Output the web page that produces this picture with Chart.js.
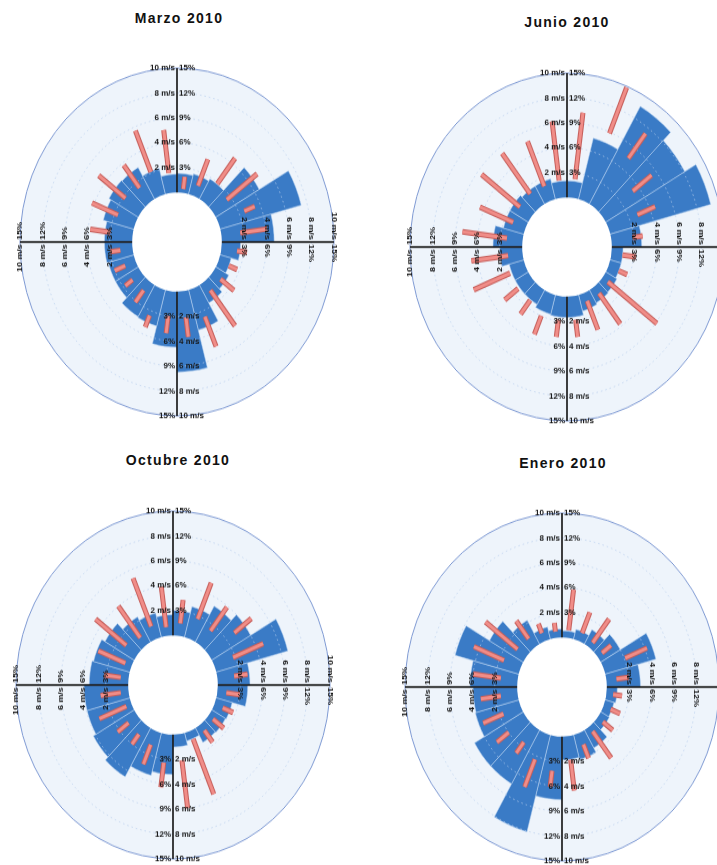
<!DOCTYPE html>
<html>
<head>
<meta charset="utf-8">
<script src="https://cdn.jsdelivr.net/npm/chart.js@4.4.1/dist/chart.umd.min.js"></script>
<style>
  html, body { margin: 0; padding: 0; background: #fff; }
  body { width: 717px; height: 865px; position: relative; overflow: hidden; font-family: "Liberation Sans", Arial, sans-serif; }
  .title { position: absolute; width: 200px; margin-left: -100px; text-align: center; font-weight: bold; font-size: 14px; line-height: 16px; letter-spacing: 1.3px; color: #111; }
  .rose { position: absolute; width: 360px; height: 360px; transform: scaleY(1.108); transform-origin: 180px 180px; }
</style>
</head>
<body>
<div class="title" style="left:179px; top:10px">Marzo 2010</div>
<div class="title" style="left:567px; top:14px">Junio 2010</div>
<div class="title" style="left:178px; top:452px">Octubre 2010</div>
<div class="title" style="left:563px; top:455px">Enero 2010</div>

<canvas id="marzo" class="rose" width="360" height="360" style="left:-3px; top:62px"></canvas>
<canvas id="junio" class="rose" width="360" height="360" style="left:387px; top:67px"></canvas>
<canvas id="octubre" class="rose" width="360" height="360" style="left:-7px; top:505px"></canvas>
<canvas id="enero" class="rose" width="360" height="360" style="left:382px; top:507px"></canvas>

<script>
// 24 sectores de 15 grados, empezando en el norte y girando en sentido horario
const sectors = ['0°', '15°', '30°', '45°', '60°', '75°', '90°', '105°', '120°', '135°', '150°', '165°',
	'180°', '195°', '210°', '225°', '240°', '255°', '270°', '285°', '300°', '315°', '330°', '345°'];

// etiquetas de los ejes (misma posicion radial para m/s y %)
const speedTicks = ['2 m/s', '4 m/s', '6 m/s', '8 m/s', '10 m/s'];
const freqTicks = ['3%', '6%', '9%', '12%', '15%'];
const tickValues = [3, 6, 9, 12, 15];
const MS_TO_PCT = 1.5; // 10 m/s ocupa lo mismo que 15%

// frecuencia (%) por sector
const marzoFreq = [2.3, 2.5, 2.8, 6.7, 11.2, 7.0, 2.5, 1.5, 2.0, 2.5, 5.0, 9.7, 6.7, 4.5, 4.4, 3.5, 3.5, 3.7, 3.7, 4.2, 4.5, 4.4, 3.2, 2.2];
const junioFreq = [2.0, 7.6, 13.6, 12.2, 13.9, 4.0, 1.5, 1.5, 1.7, 1.8, 2.0, 2.5, 2.5, 2.4, 2.0, 2.0, 2.0, 3.0, 3.9, 2.8, 2.8, 2.5, 2.5, 2.0];
const octubreFreq = [3.0, 3.8, 5.0, 6.0, 9.9, 4.3, 4.0, 2.2, 2.1, 2.0, 1.0, 1.5, 4.8, 5.3, 6.8, 6.3, 5.9, 5.9, 5.2, 5.0, 4.5, 3.5, 3.0, 2.5];
const eneroFreq = [0.8, 1.2, 2.0, 3.0, 7.0, 4.5, 1.4, 1.2, 1.3, 2.5, 3.1, 2.8, 7.6, 12.1, 7.5, 7.5, 6.0, 5.9, 6.3, 8.8, 5.2, 3.3, 1.5, 1.0];

// rango de velocidad (m/s) por sector: inicio y fin de cada barra roja
const marzoSpeedLow = [0.3, 0.9, 1.9, 1.6, 2.5, 1.7, 1.4, 1.0, 0.9, 0.9, 2.5, 2.1, 2.0, 2.4, 0.9, 1.0, 1.0, 1.1, 2.0, 1.7, 1.8, 1.5, 2.1, 1.6];
const marzoSpeedHigh = [1.3, 3.2, 4.5, 5.0, 3.5, 4.1, 2.3, 1.8, 2.4, 4.5, 5.1, 3.7, 3.4, 3.4, 2.1, 1.8, 2.0, 2.0, 3.8, 4.2, 4.8, 3.8, 5.7, 5.1];
const junioSpeedLow = [1.5, 5.9, 5.0, 3.4, 2.8, 1.9, 1.0, 1.0, 0.6, 0.7, 0.7, 1.9, 1.9, 2.0, 1.4, 1.5, 1.5, 1.3, 1.4, 1.2, 1.3, 1.4, 1.3, 1.4];
const junioSpeedHigh = [6.9, 9.9, 7.5, 5.5, 4.5, 2.8, 2.2, 1.8, 6.1, 3.8, 3.2, 3.3, 3.3, 3.6, 2.8, 3.0, 5.0, 4.6, 5.4, 4.4, 5.6, 5.5, 5.2, 6.2];
const octubreSpeedLow = [1.0, 1.75, 1.5, 2.9, 1.8, 1.5, 0.8, 0.8, 0.5, 0.6, 0.7, 2.1, 2.3, 1.2, 1.0, 1.0, 0.5, 0.7, 0.7, 0.6, 1.25, 0.8, 1.1, 0.7];
const octubreSpeedHigh = [2.9, 4.9, 3.9, 4.8, 4.7, 2.7, 2.0, 1.8, 1.7, 1.8, 5.5, 6.0, 4.3, 2.9, 2.0, 2.2, 3.1, 2.5, 2.2, 3.2, 4.7, 4.0, 5.3, 4.0];
const eneroSpeedLow = [0.6, 0.7, 0.5, 0.5, 2.1, 0.9, 0.6, 0.7, 0.6, 0.5, 1.0, 1.9, 2.8, 2.3, 1.6, 2.0, 1.65, 1.5, 1.5, 1.6, 1.0, 0.9, 0.7, 0.5];
const eneroSpeedHigh = [3.9, 2.5, 2.9, 1.5, 4.2, 2.0, 1.4, 1.6, 1.7, 3.2, 2.2, 4.4, 4.1, 4.7, 2.7, 3.3, 3.6, 3.3, 4.0, 4.5, 4.6, 2.7, 1.5, 1.2];

// cada sector aparece dos veces: borde y centro (las barras rojas van al centro)
const halfSteps = [];
sectors.forEach(function(s) {
	halfSteps.push(s, s + ' +7.5°');
});

function circle(ctx, x, y, r) {
	ctx.beginPath();
	ctx.arc(x, y, r, 0, Math.PI * 2);
}

const roseDecor = {
	id: 'roseDecor',
	beforeDatasetsDraw(chart) {
		const s = chart.scales.r;
		const ctx = chart.ctx;
		ctx.save();
		circle(ctx, s.xCenter, s.yCenter, s.getDistanceFromCenterForValue(s.max));
		ctx.fillStyle = '#eef4fb';
		ctx.fill();
		ctx.restore();
	},
	afterDatasetDraw(chart, args) {
		if(args.meta.type !== 'polarArea') return;
		const s = chart.scales.r;
		const ctx = chart.ctx;
		const cx = s.xCenter, cy = s.yCenter;
		ctx.save();
		// rejilla punteada por encima de las cuñas
		ctx.setLineDash([1.5, 3]);
		ctx.lineWidth = 0.8;
		ctx.strokeStyle = 'rgba(185,208,238,0.9)';
		tickValues.slice(0, 4).forEach(function(v) {
			circle(ctx, cx, cy, s.getDistanceFromCenterForValue(v));
			ctx.stroke();
		});
		ctx.setLineDash([]);
		// hueco central
		circle(ctx, cx, cy, s.getDistanceFromCenterForValue(0));
		ctx.fillStyle = '#ffffff';
		ctx.fill();
		ctx.restore();
	},
	afterDraw(chart) {
		const s = chart.scales.r;
		const ctx = chart.ctx;
		const cx = s.xCenter, cy = s.yCenter;
		const r0 = s.getDistanceFromCenterForValue(0);
		const R = s.getDistanceFromCenterForValue(s.max);
		ctx.save();
		// borde exterior
		circle(ctx, cx, cy, R);
		ctx.strokeStyle = '#7f9ad3';
		ctx.lineWidth = 1;
		ctx.stroke();
		// ejes
		ctx.strokeStyle = '#111';
		ctx.lineWidth = 1.6;
		ctx.beginPath();
		ctx.moveTo(cx, cy - r0); ctx.lineTo(cx, cy - R);
		ctx.moveTo(cx, cy + r0); ctx.lineTo(cx, cy + R);
		ctx.moveTo(cx + r0, cy); ctx.lineTo(cx + R, cy);
		ctx.moveTo(cx - r0, cy); ctx.lineTo(cx - R, cy);
		ctx.stroke();
		// etiquetas
		ctx.font = 'bold 8px "Liberation Sans", Arial, sans-serif';
		ctx.fillStyle = '#151515';
		ctx.textBaseline = 'middle';
		tickValues.forEach(function(v, i) {
			const d = s.getDistanceFromCenterForValue(v);
			const sp = speedTicks[i], fr = freqTicks[i];
			ctx.textAlign = 'right'; ctx.fillText(sp, cx - 2, cy - d);
			ctx.textAlign = 'left'; ctx.fillText(fr, cx + 2, cy - d);
			ctx.textAlign = 'right'; ctx.fillText(fr, cx - 2, cy + d);
			ctx.textAlign = 'left'; ctx.fillText(sp, cx + 2, cy + d);
			ctx.save();
			ctx.translate(cx + d, cy);
			ctx.rotate(Math.PI / 2);
			ctx.textAlign = 'right'; ctx.fillText(sp, -2, 0);
			ctx.textAlign = 'left'; ctx.fillText(fr, 2, 0);
			ctx.restore();
			ctx.save();
			ctx.translate(cx - d, cy);
			ctx.rotate(-Math.PI / 2);
			ctx.textAlign = 'right'; ctx.fillText(sp, -2, 0);
			ctx.textAlign = 'left'; ctx.fillText(fr, 2, 0);
			ctx.restore();
		});
		ctx.restore();
	}
};

function makeRose(id, freq, low, high) {
	const mid = [];
	sectors.forEach(function(s, k) {
		mid.push(null, (low[k] + high[k]) / 2 * MS_TO_PCT);
	});
	const halfLen = function(c) {
		if(c.dataIndex === undefined || c.dataIndex % 2 === 0) return 0;
		const k = (c.dataIndex - 1) / 2;
		const r = c.chart.scales.r;
		return (r.getDistanceFromCenterForValue(high[k] * MS_TO_PCT) - r.getDistanceFromCenterForValue(low[k] * MS_TO_PCT)) / 2;
	};
	const rot = function(c) {
		return (c.dataIndex || 0) * 7.5 - 90;
	};
	const redBars = function(color, width, order) {
		return {
			type: 'radar',
			data: mid,
			order: order,
			showLine: false,
			fill: false,
			pointStyle: 'line',
			pointRadius: halfLen,
			pointHoverRadius: halfLen,
			pointRotation: rot,
			pointBorderColor: color,
			pointBackgroundColor: color,
			pointBorderWidth: width,
			pointHoverBorderWidth: width,
			pointHitRadius: 0
		};
	};
	return new Chart(document.getElementById(id), {
		type: 'polarArea',
		data: {
			labels: halfSteps,
			datasets: [{
				data: freq,
				order: 3,
				angle: 15,
				backgroundColor: '#3a7bc6',
				borderColor: 'rgba(190,214,244,0.75)',
				borderWidth: 0.7
			},
			redBars('#c65e5a', 5, 2),
			redBars('#f08d88', 3, 1)]
		},
		options: {
			responsive: false,
			animation: false,
			events: [],
			layout: { padding: 23 },
			plugins: {
				legend: { display: false },
				tooltip: { enabled: false }
			},
			scales: {
				r: {
					min: -6,
					max: 15,
					startAngle: 0,
					ticks: { display: false },
					grid: { display: false },
					angleLines: { display: false },
					pointLabels: { display: false }
				}
			}
		},
		plugins: [roseDecor]
	});
}

makeRose('marzo', marzoFreq, marzoSpeedLow, marzoSpeedHigh);
makeRose('junio', junioFreq, junioSpeedLow, junioSpeedHigh);
makeRose('octubre', octubreFreq, octubreSpeedLow, octubreSpeedHigh);
makeRose('enero', eneroFreq, eneroSpeedLow, eneroSpeedHigh);
</script>
</body>
</html>
